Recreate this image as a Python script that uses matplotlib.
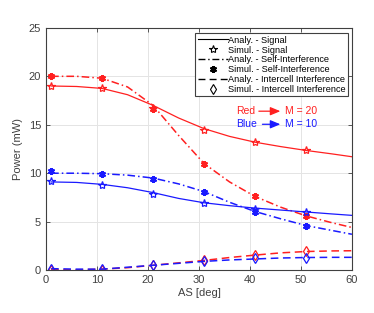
import numpy as np
import matplotlib.pyplot as plt
from matplotlib.lines import Line2D

plt.rcParams['font.family'] = ['Liberation Sans', 'DejaVu Sans']

# angular spread grid for analytic curves
as_fine = [1, 6, 11, 16, 21, 26, 31, 36, 41, 46, 51, 56, 60]
sig_20 = [19.0, 18.95, 18.75, 18.1, 17.0, 15.7, 14.6, 13.8, 13.2, 12.75, 12.35, 12.0, 11.7]
self_20 = [20.0, 20.0, 19.8, 18.9, 17.0, 13.9, 11.0, 9.1, 7.6, 6.5, 5.6, 4.9, 4.4]
inter_20 = [0.05, 0.03, 0.1, 0.25, 0.5, 0.75, 1.0, 1.3, 1.55, 1.78, 1.92, 1.98, 2.0]
sig_10 = [9.1, 9.05, 8.85, 8.5, 8.0, 7.4, 6.95, 6.65, 6.4, 6.2, 6.0, 5.8, 5.65]
self_10 = [10.0, 10.0, 9.95, 9.8, 9.5, 8.9, 8.1, 7.0, 6.05, 5.3, 4.6, 4.1, 3.7]
inter_10 = [0.15, 0.1, 0.1, 0.3, 0.5, 0.7, 0.9, 1.05, 1.15, 1.25, 1.3, 1.32, 1.32]

# simulation points
as_sim = [1, 11, 21, 31, 41, 51]
sim_sig_20 = [19.0, 18.8, 16.7, 14.5, 13.2, 12.4]
sim_self_20 = [20.0, 19.85, 16.6, 11.0, 7.6, 5.6]
sim_inter_20 = [0.0, 0.05, 0.55, 1.0, 1.6, 1.95]
sim_sig_10 = [9.2, 8.8, 7.9, 6.9, 6.3, 6.0]
sim_self_10 = [10.2, 9.95, 9.45, 8.1, 6.0, 4.6]
sim_inter_10 = [0.15, 0.1, 0.5, 0.9, 1.2, 1.3]

ast = (6, 2, 0)  # asterisk marker like matlab '*'

fig = plt.figure(figsize=(3.74, 3.13), dpi=100)
ax = fig.add_axes([0.123, 0.137, 0.818, 0.774])

for c, sig, slf, inter, ssig, sslf, sint in [
        ('#ff2020', sig_20, self_20, inter_20, sim_sig_20, sim_self_20, sim_inter_20),
        ('#1a1aff', sig_10, self_10, inter_10, sim_sig_10, sim_self_10, sim_inter_10)]:
    ax.plot(as_fine, sig, '-', color=c, lw=0.9)
    ax.plot(as_fine, slf, color=c, lw=1.1, dashes=(5, 2, 1, 2))
    ax.plot(as_fine, inter, color=c, lw=1.1, dashes=(5, 3))
    ax.plot(as_sim, ssig, '*', color=c, mfc='none', ms=6, mew=0.9)
    ax.plot(as_sim, sslf, ls='none', marker=ast, color=c, ms=5, mew=1.5)
    ax.plot(as_sim, sint, 'd', color=c, mfc='none', ms=5, mew=0.9)

ax.set_xlim(0, 60)
ax.set_ylim(0, 25)
ax.set_xticks(range(0, 61, 10))
ax.set_yticks(range(0, 26, 5))
ax.grid(True, color='#e4e4e4', lw=0.7)
ax.set_axisbelow(True)
ax.tick_params(direction='in', top=True, right=True, labelsize=8, colors='#404040',
               length=3, width=0.6)
for s in ax.spines.values():
    s.set_color('#404040')
    s.set_linewidth(0.8)
ax.set_xlabel('AS [deg]', fontsize=8, color='#404040', labelpad=2)
ax.set_ylabel('Power (mW)', fontsize=8, color='#404040', labelpad=4)

handles = [
    Line2D([], [], color='k', lw=0.8),
    Line2D([], [], ls='none', marker='*', color='k', mfc='none', ms=6, mew=0.8),
    Line2D([], [], color='k', lw=1.0, dashes=(5, 2, 1, 2)),
    Line2D([], [], ls='none', marker=ast, color='k', ms=5, mew=1.5),
    Line2D([], [], color='k', lw=1.0, dashes=(5, 3)),
    Line2D([], [], ls='none', marker='d', color='k', mfc='none', ms=5, mew=0.8),
]
labels = ['Analy. - Signal', 'Simul. - Signal', 'Analy. - Self-Interference',
          'Simul. - Self-Interference', 'Analy. - Intercell Interference',
          'Simul. - Intercell Interference']
leg = ax.legend(handles, labels, loc='upper right', bbox_to_anchor=(0.994, 0.985),
                fontsize=6.6, handlelength=3.3, handletextpad=0.05, labelspacing=0.1,
                borderpad=0.25, borderaxespad=0.2, fancybox=False, framealpha=1)
leg.get_frame().set_edgecolor('#404040')
leg.get_frame().set_linewidth(0.8)

ax.text(37.3, 16.4, 'Red', color='#ff2020', fontsize=7.5, va='center')
ax.annotate('', xy=(46.5, 16.4), xytext=(41.2, 16.4),
            arrowprops=dict(arrowstyle='-|>,head_length=0.6,head_width=0.25', color='#ff2020', lw=0.9))
ax.text(46.8, 16.4, 'M = 20', color='#ff2020', fontsize=7.5, va='center')
ax.text(37.3, 15.05, 'Blue', color='#1a1aff', fontsize=7.5, va='center')
ax.annotate('', xy=(46.5, 15.05), xytext=(41.9, 15.05),
            arrowprops=dict(arrowstyle='-|>,head_length=0.6,head_width=0.25', color='#1a1aff', lw=0.9))
ax.text(46.8, 15.05, 'M = 10', color='#1a1aff', fontsize=7.5, va='center')

fig.savefig('out.png', dpi=100)
